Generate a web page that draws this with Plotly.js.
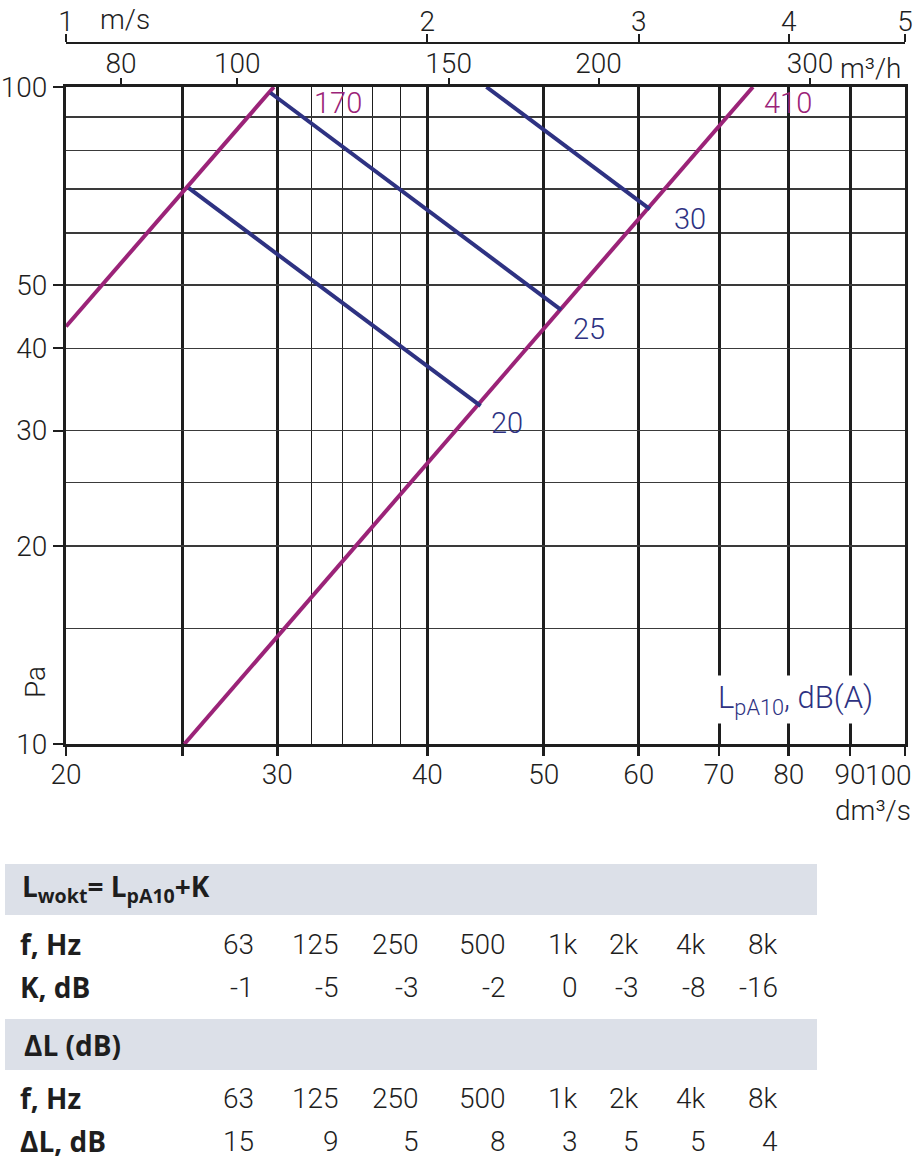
<!DOCTYPE html>
<html>
<head>
<meta charset="utf-8">
<script src="https://cdn.plot.ly/plotly-3.0.1.min.js"></script>
<style>html,body{margin:0;padding:0;background:#fff;}#chart{width:923px;height:1164px;}</style>
</head>
<body>
<div id="chart"></div>
<script>
// ---------- data ----------
const flowRange = [20, 100];          // dm3/s
const pressureRange = [10, 100];      // Pa
const xTickVals = [20, 25, 30, 40, 50, 60, 70, 80, 90, 100];
const xTickText = ['20', '', '30', '40', '50', '60', '70', '80', '90', ''];
const xThinGrid = [32, 34, 36, 38];
const yTickVals = [10, 20, 30, 40, 50, 100];
const yThinGrid = [15, 25, 60, 70, 80, 90];
const m3hTicks = [80, 100, 150, 200, 300];   // m3/h
const msTicks = [1, 2, 3, 4, 5];             // m/s
const msPerFlow = 20;                        // dm3/s per 1 m/s

// pressure drop curves (magenta)
const q170 = [20, 29.8];  const p170 = [43.2, 100];
const q410 = [25.1, 74.7]; const p410 = [10, 100];
// sound level curves (blue)
const q20 = [25.3, 44.3]; const p20 = [70.2, 32.7];
const q25 = [29.6, 51.7]; const p25 = [98.0, 45.8];
const q30 = [44.8, 61.3]; const p30 = [100, 65.2];

// table
const freqs = ['63', '125', '250', '500', '1k', '2k', '4k', '8k'];
const kValues = ['-1', '-5', '-3', '-2', '0', '-3', '-8', '-16'];
const dLValues = ['15', '9', '5', '8', '3', '5', '5', '4'];

// ---------- layout helpers ----------
const W = 923, H = 1164;
const px = v => v / W;
const py = v => 1 - v / H;
const MAG = '#9b2378';
const BLU = '#2e3282';
const INK = '#1e1e1e';
const FONT = 'Roboto, "Open Sans", sans-serif';
const BFONT = '"Open Sans", Roboto, sans-serif';
const lg = v => Math.log10(v);

const traces = [
  {x: q170, y: p170, mode: 'lines', line: {color: MAG, width: 4}},
  {x: q410, y: p410, mode: 'lines', line: {color: MAG, width: 4}},
  {x: q20, y: p20, mode: 'lines', line: {color: BLU, width: 4}},
  {x: q25, y: p25, mode: 'lines', line: {color: BLU, width: 4}},
  {x: q30, y: p30, mode: 'lines', line: {color: BLU, width: 4}},
  {x: [50], y: [50], xaxis: 'x2', mode: 'markers', marker: {opacity: 0}},
  {x: [50], y: [50], xaxis: 'x3', mode: 'markers', marker: {opacity: 0}}
].map(t => Object.assign({showlegend: false, hoverinfo: 'skip'}, t));

const tickFont = {family: FONT, size: 28, color: INK, weight: 300};
const xDomain = [px(66), px(905)];

const layout = {
  width: W, height: H,
  margin: {l: 0, r: 0, t: 0, b: 0, pad: 0},
  paper_bgcolor: '#fff', plot_bgcolor: '#fff',
  font: {family: FONT, color: INK},
  showlegend: false,
  xaxis: {
    type: 'log', range: [lg(flowRange[0]), lg(flowRange[1])], domain: xDomain,
    tickmode: 'array', tickvals: xTickVals, ticktext: xTickText,
    ticks: 'outside', ticklen: 9, tickwidth: 2.5, tickcolor: INK, ticklabelstandoff: -6,
    showgrid: true, gridcolor: INK, gridwidth: 3,
    minor: {tickmode: 'array', tickvals: xThinGrid, showgrid: true, gridcolor: INK, gridwidth: 1, ticks: ''},
    showline: true, mirror: true, linecolor: INK, linewidth: 3,
    zeroline: false, tickfont: tickFont, anchor: 'y', fixedrange: true
  },
  xaxis2: {
    type: 'log', range: [lg(flowRange[0]), lg(flowRange[1])], domain: xDomain,
    overlaying: 'x', anchor: 'y', side: 'top',
    tickmode: 'array', tickvals: m3hTicks.map(v => v / 3.6), ticktext: m3hTicks.map(String),
    ticks: 'outside', ticklen: 8, tickwidth: 2, tickcolor: INK, ticklabelstandoff: -6,
    showgrid: false, showline: false, zeroline: false, tickfont: tickFont, fixedrange: true
  },
  xaxis3: {
    type: 'log', range: [lg(flowRange[0]), lg(flowRange[1])], domain: xDomain,
    overlaying: 'x', anchor: 'free', position: py(43), side: 'top',
    tickmode: 'array', tickvals: msTicks.map(v => v * msPerFlow), ticktext: msTicks.map(String),
    ticks: 'outside', ticklen: 8, tickwidth: 2, tickcolor: INK, ticklabelstandoff: -8,
    showgrid: false, showline: true, linecolor: INK, linewidth: 2, zeroline: false,
    tickfont: tickFont, fixedrange: true
  },
  yaxis: {
    type: 'log', range: [lg(pressureRange[0]), lg(pressureRange[1])], domain: [py(744), py(87)],
    tickmode: 'array', tickvals: yTickVals, ticktext: yTickVals.map(String),
    ticks: 'outside', ticklen: 10, tickwidth: 2, tickcolor: INK,
    showgrid: true, gridcolor: '#3a3a3a', gridwidth: 1.5,
    minor: {tickmode: 'array', tickvals: yThinGrid, showgrid: true, gridcolor: '#3a3a3a', gridwidth: 1.5, ticks: ''},
    showline: true, mirror: true, linecolor: INK, linewidth: 3,
    zeroline: false, tickfont: tickFont, anchor: 'x', fixedrange: true
  },
  shapes: [
    {type: 'rect', xref: 'paper', yref: 'paper', x0: px(5), x1: px(817), y0: py(915), y1: py(864),
     fillcolor: '#dce0e8', line: {width: 0}, layer: 'below'},
    {type: 'rect', xref: 'paper', yref: 'paper', x0: px(5), x1: px(817), y0: py(1070), y1: py(1019),
     fillcolor: '#dce0e8', line: {width: 0}, layer: 'below'}
  ],
  annotations: []
};

function note(text, x, y, opts) {
  layout.annotations.push(Object.assign({
    text: text, xref: 'paper', yref: 'paper', x: px(x), y: py(y),
    xanchor: 'center', yanchor: 'middle', showarrow: false,
    font: {family: FONT, size: 28, color: INK, weight: 300}
  }, opts || {}));
}

// last bottom tick label, pulled inside the figure edge (positioned on the axis value)
layout.annotations.push({
  text: String(xTickVals[xTickVals.length - 1]), xref: 'x', yref: 'paper',
  x: lg(xTickVals[xTickVals.length - 1]), y: py(775), xanchor: 'right', xshift: 9,
  yanchor: 'middle', showarrow: false, font: tickFont
});

// axis names
note('m/s', 125, 19);
note('m³/h', 838, 68, {xanchor: 'left'});
note('dm³/s', 913, 810, {xanchor: 'right'});
note('Pa', 35, 682, {textangle: -90});
// curve labels
note('170', 338, 103, {font: {family: FONT, size: 29, color: MAG, weight: 300}});
note('410', 788, 103, {font: {family: FONT, size: 29, color: MAG, weight: 300}});
note('30', 690, 219, {font: {family: FONT, size: 29, color: BLU, weight: 300}});
note('25', 589, 329, {font: {family: FONT, size: 29, color: BLU, weight: 300}});
note('20', 507, 423, {font: {family: FONT, size: 29, color: BLU, weight: 300}});
note('L<sub>pA10</sub>, dB(A)', 795, 699, {bgcolor: '#fff', borderpad: 3,
  font: {family: FONT, size: 31, color: BLU, weight: 300}});

// table
const colRight = [256, 341, 421, 508, 580, 641, 708, 780];
const boldFont = {family: BFONT, size: 28, color: INK, weight: 700};
note('<b>L<sub>wokt</sub>= L<sub>pA10</sub>+K</b>', 20, 888, {xanchor: 'left', font: boldFont});
note('<b>f, Hz</b>', 18, 944, {xanchor: 'left', font: boldFont});
note('<b>K, dB</b>', 18, 987, {xanchor: 'left', font: boldFont});
note('<b>ΔL (dB)</b>', 22, 1045, {xanchor: 'left', font: boldFont});
note('<b>f, Hz</b>', 18, 1098, {xanchor: 'left', font: boldFont});
note('<b>ΔL, dB</b>', 18, 1141, {xanchor: 'left', font: boldFont});
freqs.forEach((f, i) => {
  note(f, colRight[i], 944, {xanchor: 'right'});
  note(kValues[i], colRight[i], 987, {xanchor: 'right'});
  note(f, colRight[i], 1098, {xanchor: 'right'});
  note(dLValues[i], colRight[i], 1141, {xanchor: 'right'});
});

Plotly.newPlot('chart', traces, layout, {displayModeBar: false, staticPlot: true});
</script>
</body>
</html>
